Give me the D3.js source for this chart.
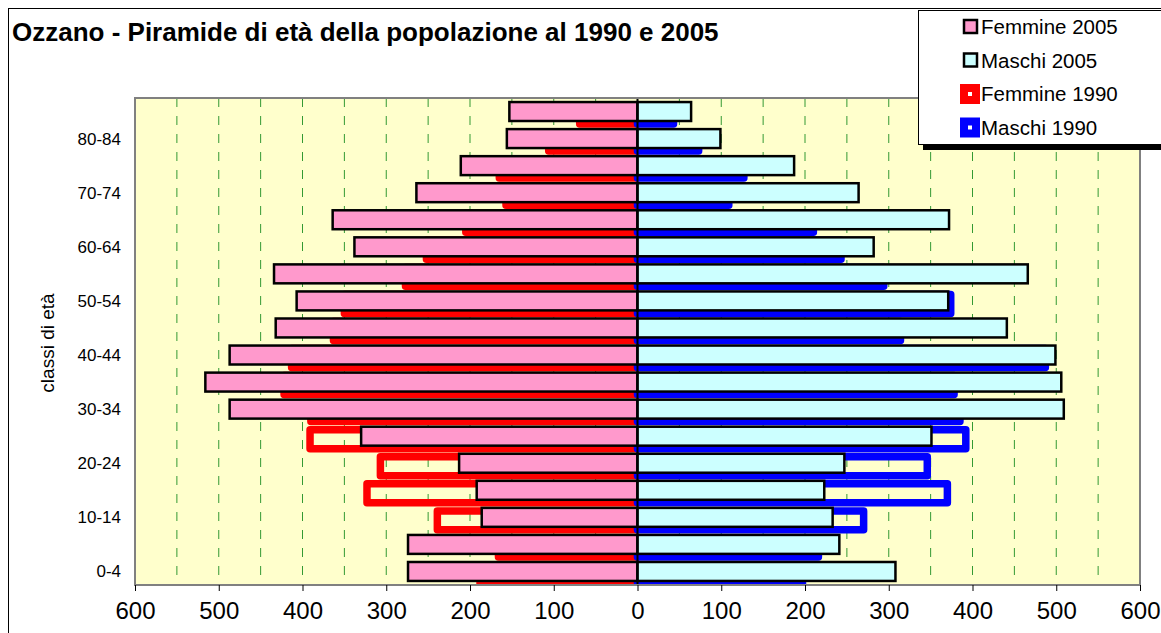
<!DOCTYPE html>
<html>
<head>
<meta charset="utf-8">
<script src="https://cdn.jsdelivr.net/npm/d3@7"></script>
<style>
  body { margin: 0; background: #fff; }
  text { font-family: Arial, "Liberation Sans", sans-serif; }
</style>
</head>
<body>
<svg id="chart" width="1161" height="633"></svg>
<script>
// age classes, bottom to top
var ageClasses = ["0-4", "5-9", "10-14", "15-19", "20-24", "25-29", "30-34", "35-39", "40-44",
  "45-49", "50-54", "55-59", "60-64", "65-69", "70-74", "75-79", "80-84", "85+"];

var femmine2005 = [274, 274, 186, 192, 213, 330, 487, 516, 487, 432, 407, 434, 338, 364, 264, 211, 156, 153];
var maschi2005 = [308, 241, 233, 223, 247, 351, 509, 506, 499, 441, 371, 466, 282, 372, 264, 187, 99, 64];
var femmine1990 = [188, 166, 239, 323, 307, 391, 390, 422, 413, 363, 350, 277, 252, 205, 157, 165, 106, 69];
var maschi1990 = [197, 216, 270, 370, 346, 392, 385, 378, 487, 314, 374, 294, 243, 210, 109, 127, 73, 43];

var xTicks = [-600, -500, -400, -300, -200, -100, 0, 100, 200, 300, 400, 500, 600];
var yLabels = ["0-4", "10-14", "20-24", "30-34", "40-44", "50-54", "60-64", "70-74", "80-84"];
var gridValues = [-550, -500, -450, -400, -350, -300, -250, -200, -150, -100, -50,
  50, 100, 150, 200, 250, 300, 350, 400, 450, 500, 550];

var legendItems = [
  { label: "Femmine 2005", fill: "#ff99cc", kind: "bar" },
  { label: "Maschi 2005", fill: "#ccffff", kind: "bar" },
  { label: "Femmine 1990", fill: "#ff0000", kind: "outline" },
  { label: "Maschi 1990", fill: "#0000ff", kind: "outline" }
];

var plot = { left: 135, right: 1140, top: 98, bottom: 585 };

var svg = d3.select('#chart');

// outer chart border
svg.append('rect')
  .attr('x', 8.5).attr('y', 8.5)
  .attr('width', 1170).attr('height', 650)
  .attr('fill', 'none')
  .attr('stroke', '#000')
  .attr('stroke-width', 1);

svg.append('text')
  .attr('x', 12)
  .attr('y', 41)
  .attr('font-size', 26)
  .attr('font-weight', 'bold')
  .text('Ozzano - Piramide di età della popolazione al 1990 e 2005');

var x = d3.scaleLinear().domain([-600, 600]).range([plot.left, plot.right]);
var y = d3.scaleBand()
  .domain(ageClasses)
  .range([plot.bottom, plot.top])
  .paddingInner(0.3)
  .paddingOuter(0.15);

svg.append('defs').append('clipPath')
  .attr('id', 'plotClip')
  .append('rect')
  .attr('x', plot.left).attr('y', plot.top)
  .attr('width', plot.right - plot.left).attr('height', plot.bottom - plot.top);

// plot background
svg.append('rect')
  .attr('x', plot.left).attr('y', plot.top)
  .attr('width', plot.right - plot.left).attr('height', plot.bottom - plot.top)
  .attr('fill', '#ffffcc');

svg.append('g')
  .selectAll('line')
  .data(gridValues)
  .join('line')
  .attr('x1', function(d) { return x(d); })
  .attr('x2', function(d) { return x(d); })
  .attr('y1', plot.top)
  .attr('y2', plot.bottom)
  .attr('stroke', '#339933')
  .attr('stroke-width', 1)
  .attr('stroke-dasharray', '9,9');

var bars = svg.append('g').attr('clip-path', 'url(#plotClip)');
var bw = y.bandwidth();
var shift = 3;

// 1990 bars: thick hollow outlines, a bit lower than the 2005 bars
var drawOutline = function(values, sign, color) {
  bars.append('g')
    .selectAll('rect')
    .data(values)
    .join('rect')
    .attr('x', function(d) { return sign < 0 ? x(-d) : x(0); })
    .attr('width', function(d) { return Math.abs(x(d) - x(0)); })
    .attr('y', function(d, i) { return y(ageClasses[i]) + shift; })
    .attr('height', bw)
    .attr('fill', 'none')
    .attr('stroke', color)
    .attr('stroke-width', 7.5)
    .attr('stroke-linejoin', 'round');
};

drawOutline(femmine1990, -1, '#ff0000');
drawOutline(maschi1990, 1, '#0000ff');

var drawBars = function(values, sign, color) {
  bars.append('g')
    .selectAll('rect')
    .data(values)
    .join('rect')
    .attr('x', function(d) { return sign < 0 ? x(-d) : x(0); })
    .attr('width', function(d) { return Math.abs(x(d) - x(0)); })
    .attr('y', function(d, i) { return y(ageClasses[i]); })
    .attr('height', bw)
    .attr('fill', color)
    .attr('stroke', '#000')
    .attr('stroke-width', 2.5);
};

drawBars(femmine2005, -1, '#ff99cc');
drawBars(maschi2005, 1, '#ccffff');

// vertical axis at zero
svg.append('line')
  .attr('x1', x(0)).attr('x2', x(0))
  .attr('y1', plot.top).attr('y2', plot.bottom)
  .attr('stroke', '#000')
  .attr('stroke-width', 2);

// plot border
svg.append('rect')
  .attr('x', plot.left).attr('y', plot.top)
  .attr('width', plot.right - plot.left).attr('height', plot.bottom - plot.top)
  .attr('fill', 'none')
  .attr('stroke', '#808080')
  .attr('stroke-width', 2);

var xAxis = svg.append('g')
  .attr('transform', 'translate(0,' + plot.bottom + ')')
  .call(d3.axisBottom(x)
    .tickValues(xTicks)
    .tickSize(6)
    .tickFormat(function(d) { return Math.abs(d); }));
xAxis.select('.domain').remove();
xAxis.selectAll('line').attr('stroke', '#000');
xAxis.selectAll('text')
  .attr('font-size', 24)
  .attr('font-family', 'Arial, "Liberation Sans", sans-serif')
  .attr('fill', '#000')
  .attr('y', 17);

svg.append('g')
  .selectAll('text')
  .data(yLabels)
  .join('text')
  .attr('x', 121)
  .attr('y', function(d) { return y(d) + bw / 2 + 6; })
  .attr('text-anchor', 'end')
  .attr('font-size', 17)
  .text(function(d) { return d; });

svg.append('text')
  .attr('transform', 'translate(54,343) rotate(-90)')
  .attr('text-anchor', 'middle')
  .attr('font-size', 19)
  .text('classi di età');

// legend
var lg = svg.append('g');
lg.append('rect')
  .attr('x', 923).attr('y', 15)
  .attr('width', 260).attr('height', 135)
  .attr('fill', '#000');
lg.append('rect')
  .attr('x', 918.5).attr('y', 10.5)
  .attr('width', 260).attr('height', 134)
  .attr('fill', '#fff')
  .attr('stroke', '#000')
  .attr('stroke-width', 1);

legendItems.forEach(function(item, i) {
  var cy = 27 + i * 33.5;
  if (item.kind == 'bar') {
    lg.append('rect')
      .attr('x', 964).attr('y', cy - 7)
      .attr('width', 13).attr('height', 13)
      .attr('fill', item.fill)
      .attr('stroke', '#000')
      .attr('stroke-width', 2.5);
  } else {
    lg.append('rect')
      .attr('x', 960).attr('y', cy - 10)
      .attr('width', 20).attr('height', 20)
      .attr('fill', item.fill);
    lg.append('rect')
      .attr('x', 968).attr('y', cy - 2)
      .attr('width', 4).attr('height', 4)
      .attr('fill', '#fff');
  }
  lg.append('text')
    .attr('x', 981)
    .attr('y', cy + 7)
    .attr('font-size', 20.5)
    .text(item.label);
});
</script>
</body>
</html>
